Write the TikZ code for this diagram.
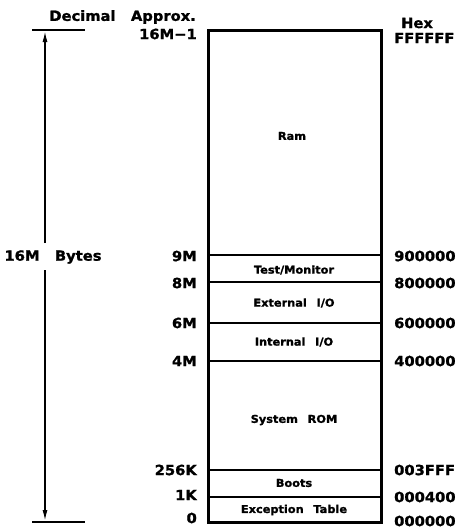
\documentclass[tikz,border=0pt]{standalone}
\usepackage{fontspec}
\setmainfont{DejaVu Sans}[FakeStretch=1.05,BoldFeatures={FakeBold=1.3}]
\usetikzlibrary{arrows.meta}
\begin{document}
\begin{tikzpicture}[x=1pt,y=-1pt,
  big/.style={font=\fontsize{14}{14}\selectfont\bfseries, inner sep=0pt},
  small/.style={font=\fontsize{10.8}{10.8}\selectfont\bfseries, inner sep=0pt},
  dec/.style={big, anchor=east},
  hex/.style={big, anchor=west},
  frame/.style={line width=3pt},
  divider/.style={line width=2.7pt},
  dim/.style={line width=1.5pt},
  tip/.style={-{Latex[length=11pt,width=5pt]}, line width=1.5pt}]
\useasboundingbox (0,0) rectangle (460,528);
% memory box
\coordinate (tl) at (208,30);
\coordinate (br) at (381,522);
\draw[frame] (tl) rectangle (br);
\foreach \yy/\nm in {255/a,282/b,323/c,361/d,470/e,497/f}{
  \coordinate (L\nm) at (208,\yy);
  \coordinate (R\nm) at (381,\yy);
  \draw[divider] (L\nm) -- (R\nm);
}
% region labels
\node[small] (ram) at (292,136) {Ram};
\node[small] (test) at (294,270) {Test/Monitor};
\node[small] (ext) at (294,303) {External\hspace{0.9em}I/O};
\node[small] (int) at (294,342) {Internal\hspace{0.9em}I/O};
\node[small] (rom) at (294,420) {System\hspace{0.9em}ROM};
\node[small] (boots) at (294,483) {Boots};
\node[small] (exc) at (294,510) {Exception\hspace{0.9em}Table};
% header
\node[big, anchor=east] (hdec) at (196,17) {Decimal\hspace{1.1em}Approx.};
\node[big] (hhex) at (417,23) {Hex};
% decimal labels
\node[dec] (d16) at (197,34) {16M−1};
\node[dec] (d9) at (197,256) {9M};
\node[dec] (d8) at (197,283) {8M};
\node[dec] (d6) at (197,323) {6M};
\node[dec] (d4) at (197,361) {4M};
\node[dec] (d256) at (197,470) {256K};
\node[dec] (d1) at (197,495) {1K};
\node[dec] (d0) at (197,518) {0};
% hex labels
\node[hex] (hF) at (394,38) {FFFFFF};
\node[hex] (h9) at (394,256) {900000};
\node[hex] (h8) at (394,283) {800000};
\node[hex] (h6) at (394,323) {600000};
\node[hex] (h4) at (394,361) {400000};
\node[hex] (h3) at (394,470) {003FFF};
\node[hex] (h04) at (394,497) {000400};
\node[hex] (h00) at (394,521) {000000};
% size dimension
\node[big] (bytes) at (53,257) {16M\hspace{1.1em}Bytes};
\coordinate (t1) at (32,30);
\coordinate (t2) at (85,30);
\coordinate (b1) at (32,522);
\coordinate (b2) at (85,522);
\coordinate (atop) at (45,31);
\coordinate (abot) at (45,521);
\coordinate (s1) at (45,243);
\coordinate (s2) at (45,270);
\draw[dim] (t1) -- (t2);
\draw[dim] (b1) -- (b2);
\draw[tip] (s1) -- (atop);
\draw[tip] (s2) -- (abot);
\end{tikzpicture}
\end{document}
